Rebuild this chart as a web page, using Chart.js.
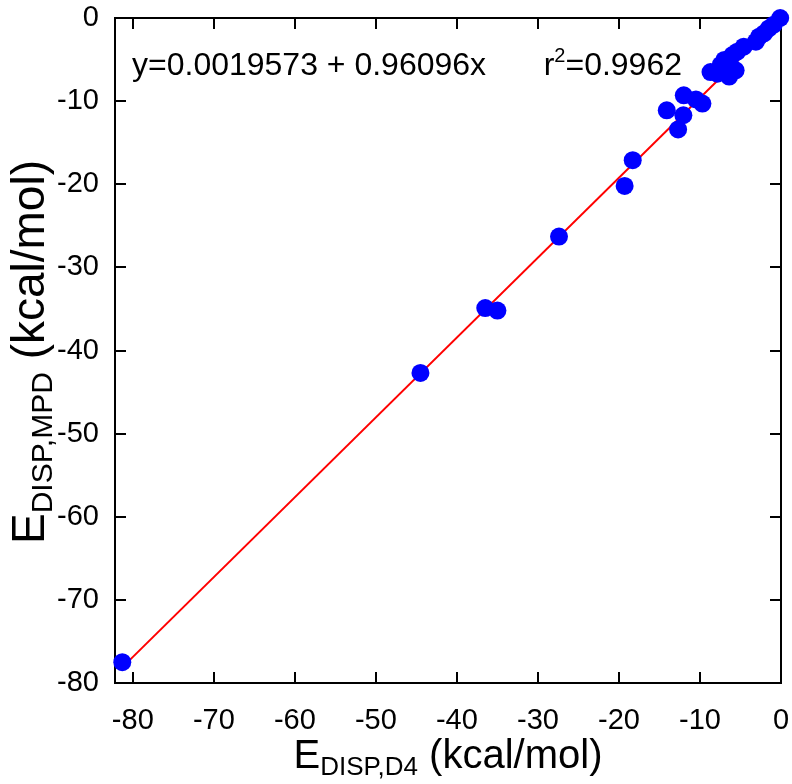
<!DOCTYPE html>
<html><head><meta charset="utf-8">
<script src="https://cdn.jsdelivr.net/npm/chart.js@4/dist/chart.umd.min.js"></script>
<style>html,body{margin:0;padding:0;background:#fff;}#wrap{width:792px;height:784px;}</style>
</head><body><div id="wrap"><canvas id="c" width="792" height="784"></canvas></div>
<script>
// ---- data ----
const d4Values  = [-81.3, -44.5, -36.5, -35.0, -27.4, -19.3, -18.3, -14.1, -12.7, -12.05, -12.0, -10.5, -9.7, -8.7, -7.85, -7.45, -7.0, -6.4, -6.0, -5.6, -6.0, -5.4, -4.6, -3.1, -2.7, -2.1, -1.5, -0.9, -0.1];
const mpdValues = [-77.5, -42.7, -34.9, -35.2, -26.3, -20.2, -17.1, -11.1, -13.4, -11.7, -9.3, -9.8, -10.3, -6.5, -6.7, -5.65, -5.05, -7.05, -6.45, -6.3, -4.45, -4.05, -3.45, -2.85, -2.25, -1.85, -1.25, -0.8, 0.0];
const fitX = [-81.3, 0.0];
const fitY = [-78.12, 0.002];
const xTickValues = [-80, -70, -60, -50, -40, -30, -20, -10, 0];
const yTickValues = [0, -10, -20, -30, -40, -50, -60, -70, -80];
const equationText = 'y=0.0019573 + 0.96096x';
const r2Label = 'r';
const r2Power = '2';
const r2Value = '=0.9962';
const xTitleMain = 'E', xTitleSub = 'DISP,D4', xTitleUnit = ' (kcal/mol)';
const yTitleMain = 'E', yTitleSub = 'DISP,MPD', yTitleUnit = ' (kcal/mol)';

const FONT = '"Liberation Sans", Arial, Helvetica, sans-serif';

function drawSubTitle(ctx, main, sub, unit, big, small, subDrop) {
  ctx.font = big + 'px ' + FONT;
  const w1 = ctx.measureText(main).width;
  const w3 = ctx.measureText(unit).width;
  ctx.font = small + 'px ' + FONT;
  const w2 = ctx.measureText(sub).width;
  const total = w1 + w2 + w3;
  let x = -total / 2;
  ctx.textAlign = 'left';
  ctx.textBaseline = 'alphabetic';
  ctx.font = big + 'px ' + FONT;
  ctx.fillText(main, x, 0); x += w1;
  ctx.font = small + 'px ' + FONT;
  ctx.fillText(sub, x, subDrop); x += w2;
  ctx.font = big + 'px ' + FONT;
  ctx.fillText(unit, x, 0);
}

const framePlugin = {
  id: 'frame',
  beforeDatasetsDraw(chart) {
    const {ctx, chartArea: a, scales} = chart;
    const xs = scales.x, ys = scales.y;
    ctx.save();
    ctx.strokeStyle = '#000';
    ctx.lineWidth = 2;
    ctx.strokeRect(a.left, a.top, a.right - a.left, a.bottom - a.top);
    const L = 11;
    ctx.beginPath();
    xTickValues.forEach(v => {
      const px = Math.round(xs.getPixelForValue(v));
      ctx.moveTo(px, a.bottom); ctx.lineTo(px, a.bottom - L);
      ctx.moveTo(px, a.top); ctx.lineTo(px, a.top + L);
    });
    yTickValues.forEach(v => {
      const py = Math.round(ys.getPixelForValue(v));
      ctx.moveTo(a.left, py); ctx.lineTo(a.left + L, py);
      ctx.moveTo(a.right, py); ctx.lineTo(a.right - L, py);
    });
    ctx.stroke();
    // equation
    ctx.fillStyle = '#000';
    ctx.textAlign = 'left';
    ctx.textBaseline = 'alphabetic';
    ctx.font = '32px ' + FONT;
    ctx.fillText(equationText, 132, 75);
    // r^2 part, right end at ~682
    const wr = ctx.measureText(r2Label).width;
    const wv = ctx.measureText(r2Value).width;
    ctx.font = '20px ' + FONT;
    const wp = ctx.measureText(r2Power).width;
    let rx = 682 - wv - wp - wr;
    ctx.font = '32px ' + FONT;
    ctx.fillText(r2Label, rx, 75);
    rx += wr;
    ctx.font = '20px ' + FONT;
    ctx.fillText(r2Power, rx, 62);
    rx += wp;
    ctx.font = '32px ' + FONT;
    ctx.fillText(r2Value, rx, 75);
    ctx.restore();
  },
  afterDraw(chart) {
    const {ctx} = chart;
    ctx.save();
    ctx.fillStyle = '#000';
    ctx.translate(448, 768);
    drawSubTitle(ctx, xTitleMain, xTitleSub, xTitleUnit, 40, 26, 7);
    ctx.restore();
    ctx.save();
    ctx.fillStyle = '#000';
    ctx.translate(44, 352);
    ctx.rotate(-Math.PI / 2);
    drawSubTitle(ctx, yTitleMain, yTitleSub, yTitleUnit, 46, 30, 8);
    ctx.restore();
  }
};

const tickFont = {family: FONT, size: 29};
function zeroPad(s) { s.paddingLeft = 0; s.paddingRight = 0; s.paddingTop = 0; s.paddingBottom = 0; }

new Chart(document.getElementById('c'), {
  type: 'scatter',
  data: {
    datasets: [
      {
        type: 'scatter',
        data: d4Values.map((v, i) => ({x: v, y: mpdValues[i]})),
        backgroundColor: '#0000ff',
        borderColor: '#0000ff',
        borderWidth: 0,
        pointRadius: 9,
        clip: false
      },
      {
        type: 'line',
        data: fitX.map((v, i) => ({x: v, y: fitY[i]})),
        borderColor: '#ff0000',
        borderWidth: 2,
        pointRadius: 0,
        fill: false,
        clip: false
      }
    ]
  },
  options: {
    responsive: false,
    animation: false,
    devicePixelRatio: 1,
    layout: {padding: {top: 18, right: 11, left: 0, bottom: 0}},
    plugins: {legend: {display: false}, tooltip: {enabled: false}},
    scales: {
      x: {
        type: 'linear', min: -82.2, max: 0,
        grid: {display: false, drawTicks: false},
        border: {display: false},
        ticks: {stepSize: 10, includeBounds: false, font: tickFont, color: '#000', padding: 21, maxRotation: 0, autoSkip: false},
        afterFit(s) { s.height = 101; zeroPad(s); }
      },
      y: {
        type: 'linear', min: -80, max: 0,
        grid: {display: false, drawTicks: false},
        border: {display: false},
        ticks: {stepSize: 10, includeBounds: false, font: tickFont, color: '#000', padding: 16, autoSkip: false},
        afterFit(s) { s.width = 115; zeroPad(s); }
      }
    }
  },
  plugins: [framePlugin]
});
</script>
</body></html>
